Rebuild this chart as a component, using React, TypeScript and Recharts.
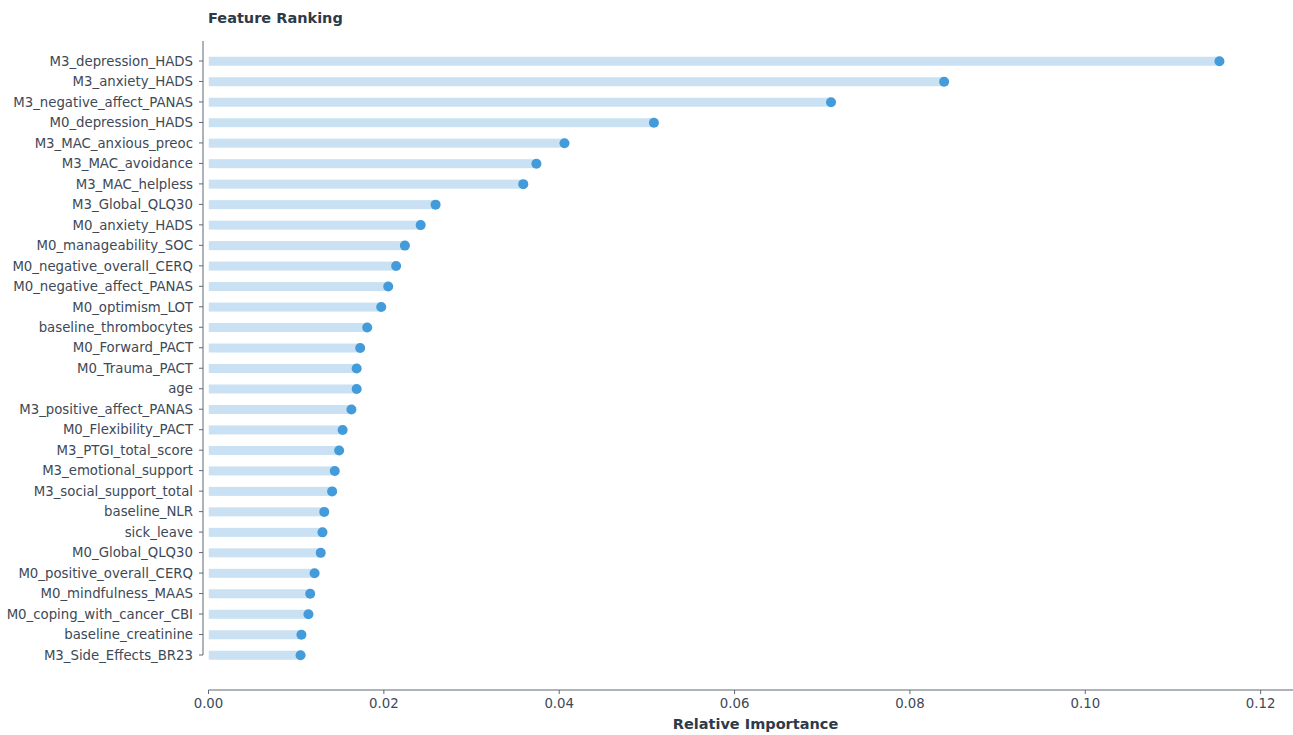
import React from "react";
import { ComposedChart, Bar, XAxis, YAxis } from "recharts";

const features: string[] = [
  "M3_depression_HADS",
  "M3_anxiety_HADS",
  "M3_negative_affect_PANAS",
  "M0_depression_HADS",
  "M3_MAC_anxious_preoc",
  "M3_MAC_avoidance",
  "M3_MAC_helpless",
  "M3_Global_QLQ30",
  "M0_anxiety_HADS",
  "M0_manageability_SOC",
  "M0_negative_overall_CERQ",
  "M0_negative_affect_PANAS",
  "M0_optimism_LOT",
  "baseline_thrombocytes",
  "M0_Forward_PACT",
  "M0_Trauma_PACT",
  "age",
  "M3_positive_affect_PANAS",
  "M0_Flexibility_PACT",
  "M3_PTGI_total_score",
  "M3_emotional_support",
  "M3_social_support_total",
  "baseline_NLR",
  "sick_leave",
  "M0_Global_QLQ30",
  "M0_positive_overall_CERQ",
  "M0_mindfulness_MAAS",
  "M0_coping_with_cancer_CBI",
  "baseline_creatinine",
  "M3_Side_Effects_BR23",
];

const importance: number[] = [
  0.1153, 0.0839, 0.071, 0.0508, 0.0406, 0.0374, 0.0359, 0.0259, 0.0242,
  0.0224, 0.0214, 0.0205, 0.0197, 0.0181, 0.0173, 0.0169, 0.0169, 0.0163,
  0.0153, 0.0149, 0.0144, 0.0141, 0.0132, 0.013, 0.0128, 0.0121, 0.0116,
  0.0114, 0.0106, 0.0105,
];

const xTicks: number[] = [0, 0.02, 0.04, 0.06, 0.08, 0.1, 0.12];

const data = features.map((name, i) => ({ name, value: importance[i] }));

const FONT = "'DejaVu Sans', sans-serif";
const TEXT = "#3d4957";
const LINE = "#5d6875";

const Lollipop = (props: any) => {
  const { x, y, width, height } = props;
  const cy = y + height / 2;
  return (
    <g>
      <rect x={x} y={y} width={Math.max(0, width)} height={height} fill="#c9e1f3" />
      <circle cx={x + width} cy={cy} r={5} fill="#439bda" />
    </g>
  );
};

export default function App() {
  return (
    <div
      style={{
        position: "absolute",
        left: 0,
        top: 0,
        width: 1293,
        height: 735,
        overflow: "hidden",
        background: "#ffffff",
        fontFamily: FONT,
      }}
    >
      <div
        style={{
          position: "absolute",
          left: 208,
          top: 8,
          fontSize: 14.5,
          fontWeight: "bold",
          lineHeight: "20px",
          color: "#2e3a48",
          fontFamily: FONT,
        }}
      >
        Feature Ranking
      </div>
      <ComposedChart
        width={1310}
        height={735}
        data={data}
        layout="vertical"
        margin={{ top: 41, right: 2, bottom: 0, left: 0 }}
        style={{ position: "absolute", left: 0, top: 0 }}
      >
        <XAxis
          type="number"
          domain={[0, 0.1254]}
          ticks={xTicks}
          allowDataOverflow
          tickFormatter={(v: number) => v.toFixed(2)}
          height={45}
          padding={{ left: 5.5, right: 0 }}
          tickSize={4}
          tickMargin={5}
          axisLine={{ stroke: LINE, strokeWidth: 1, strokeDasharray: "0 5.5 3000 0" }}
          tickLine={{ stroke: LINE }}
          tick={{ fill: TEXT, fontSize: 13.3, fontFamily: FONT }}
          label={{
            value: "Relative Importance",
            position: "insideBottom",
            offset: 6,
            fill: "#2e3a48",
            fontSize: 14.5,
            fontWeight: "bold",
            fontFamily: FONT,
          }}
        />
        <YAxis
          type="category"
          dataKey="name"
          width={203}
          interval={0}
          padding={{ top: 9.76, bottom: 24.76 }}
          tickSize={4}
          tickMargin={6}
          axisLine={{ stroke: LINE, strokeWidth: 1, strokeDasharray: "614 3000" }}
          tickLine={{ stroke: LINE }}
          tick={{ fill: TEXT, fontSize: 13.3, fontFamily: FONT }}
        />
        <Bar
          dataKey="value"
          barSize={9}
          fill="#c9e1f3"
          shape={Lollipop}
          isAnimationActive={false}
        />
      </ComposedChart>
    </div>
  );
}
